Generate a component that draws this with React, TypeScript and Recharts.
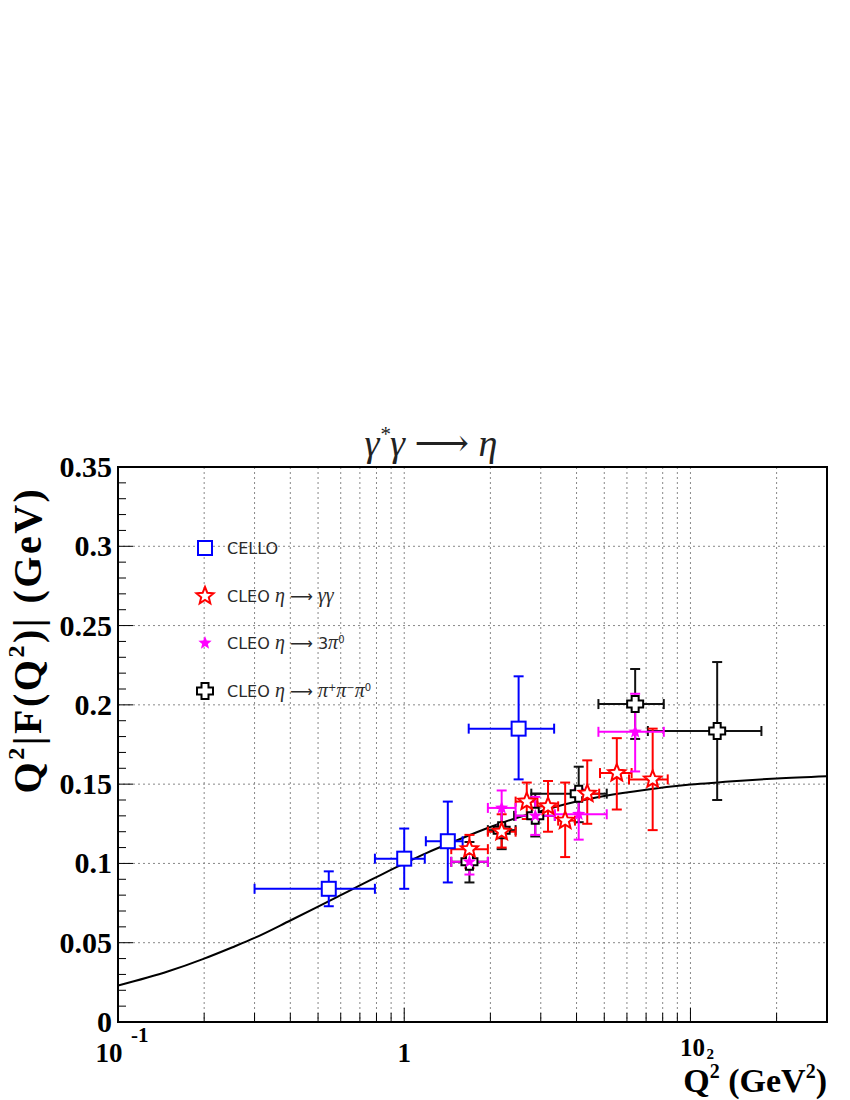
import React from 'react';
import { ComposedChart, Scatter, Line, XAxis, YAxis, CartesianGrid, ErrorBar, ReferenceArea } from 'recharts';

// CELLO
const celloData = [
  { x: 0.545, y: 0.084, xlo: 0.30, xhi: 0.79, ylo: 0.073, yhi: 0.095 },
  { x: 1.0, y: 0.103, xlo: 0.79, xhi: 1.18, ylo: 0.084, yhi: 0.122 },
  { x: 1.42, y: 0.114, xlo: 1.19, xhi: 1.6, ylo: 0.088, yhi: 0.139 },
  { x: 2.51, y: 0.185, xlo: 1.68, xhi: 3.34, ylo: 0.153, yhi: 0.218 },
];
// CLEO eta -> gamma gamma
const cleoGGData = [
  { x: 1.69, y: 0.109, xlo: 1.46, xhi: 1.96, ylo: 0.097, yhi: 0.118 },
  { x: 2.19, y: 0.120, xlo: 1.96, xhi: 2.45, ylo: 0.110, yhi: 0.131 },
  { x: 2.68, y: 0.139, xlo: 2.45, xhi: 2.92, ylo: 0.128, yhi: 0.151 },
  { x: 3.18, y: 0.136, xlo: 2.92, xhi: 3.45, ylo: 0.120, yhi: 0.152 },
  { x: 3.65, y: 0.127, xlo: 3.45, xhi: 3.95, ylo: 0.104, yhi: 0.151 },
  { x: 4.36, y: 0.144, xlo: 3.95, xhi: 4.8, ylo: 0.125, yhi: 0.165 },
  { x: 5.53, y: 0.157, xlo: 4.83, xhi: 6.23, ylo: 0.134, yhi: 0.179 },
  { x: 7.38, y: 0.153, xlo: 6.1, xhi: 8.33, ylo: 0.121, yhi: 0.185 },
];
// CLEO eta -> 3 pi0
const cleo3PiData = [
  { x: 1.69, y: 0.101, xlo: 1.46, xhi: 1.96, ylo: 0.093, yhi: 0.109 },
  { x: 2.19, y: 0.135, xlo: 1.96, xhi: 2.45, ylo: 0.124, yhi: 0.146 },
  { x: 2.87, y: 0.130, xlo: 2.45, xhi: 3.36, ylo: 0.118, yhi: 0.142 },
  { x: 4.07, y: 0.131, xlo: 3.36, xhi: 5.1, ylo: 0.115, yhi: 0.147 },
  { x: 6.41, y: 0.183, xlo: 4.77, xhi: 8.07, ylo: 0.158, yhi: 0.207 },
];
// CLEO eta -> pi+ pi- pi0
const cleoPPPData = [
  { x: 1.69, y: 0.101, xlo: 1.46, xhi: 1.96, ylo: 0.088, yhi: 0.1135 },
  { x: 2.19, y: 0.121, xlo: 1.96, xhi: 2.45, ylo: 0.109, yhi: 0.135 },
  { x: 2.87, y: 0.130, xlo: 2.42, xhi: 3.36, ylo: 0.117, yhi: 0.144 },
  { x: 4.07, y: 0.144, xlo: 2.78, xhi: 5.1, ylo: 0.126, yhi: 0.161 },
  { x: 6.41, y: 0.2005, xlo: 4.77, xhi: 8.07, ylo: 0.1785, yhi: 0.2226 },
  { x: 12.4, y: 0.1835, xlo: 7.1, xhi: 17.7, ylo: 0.140, yhi: 0.227 },
];
// theory curve
const curveQ2 = [0.1, 0.15, 0.2, 0.25, 0.3, 0.4, 0.5, 0.6, 0.7, 0.8, 1, 1.2, 1.5, 2, 2.5, 3, 4, 5, 7, 10, 15, 20, 30];
const curveF = [0.023, 0.032, 0.040, 0.047, 0.053, 0.064, 0.0727, 0.080, 0.0862, 0.0914, 0.100, 0.1067, 0.114, 0.123, 0.129, 0.133, 0.139, 0.1425, 0.1465, 0.1497, 0.1522, 0.1536, 0.155];

const xGridValues = [0.2, 0.3, 0.4, 0.5, 0.6, 0.7, 0.8, 0.9, 1, 2, 3, 4, 5, 6, 7, 8, 9, 10, 20];
const xTickValues = [0.1, ...xGridValues];
const yGridValues = [0.05, 0.1, 0.15, 0.2, 0.25, 0.3];
const yTickLabels = ['0', '0.05', '0.1', '0.15', '0.2', '0.25', '0.3', '0.35'];
const yTickValues = Array.from({ length: 36 }, (_, i) => i / 100);

const toPts = (arr: any[]) =>
  arr.map((d) => ({ x: d.x, y: d.y, ex: [d.x - d.xlo, d.xhi - d.x], ey: [d.y - d.ylo, d.yhi - d.y] }));
const curveData = curveQ2.map((q, i) => ({ x: q, y: curveF[i] }));

const starPath = (cx: number, cy: number, R: number, r: number) => {
  let p = '';
  for (let i = 0; i < 10; i++) {
    const rad = i % 2 === 0 ? R : r;
    const a = -Math.PI / 2 + (i * Math.PI) / 5;
    p += (i === 0 ? 'M' : 'L') + (cx + rad * Math.cos(a)).toFixed(2) + ',' + (cy + rad * Math.sin(a)).toFixed(2);
  }
  return p + 'Z';
};
const crossPath = (cx: number, cy: number, a: number, t: number) =>
  `M${cx - t},${cy - a}L${cx + t},${cy - a}L${cx + t},${cy - t}L${cx + a},${cy - t}L${cx + a},${cy + t}L${cx + t},${cy + t}L${cx + t},${cy + a}L${cx - t},${cy + a}L${cx - t},${cy + t}L${cx - a},${cy + t}L${cx - a},${cy - t}L${cx - t},${cy - t}Z`;

const SquareMark = ({ cx, cy }: any) => (
  <rect x={cx - 7} y={cy - 7} width={14} height={14} fill="#fff" stroke="#0000ff" strokeWidth={2} />
);
const OpenStar = ({ cx, cy }: any) => <path d={starPath(cx, cy, 9, 4)} fill="#fff" stroke="#ff0000" strokeWidth={2} />;
const FilledStar = ({ cx, cy }: any) => <path d={starPath(cx, cy, 7, 3)} fill="#ff00ff" stroke="none" />;
const OpenCross = ({ cx, cy }: any) => <path d={crossPath(cx, cy, 8, 3.5)} fill="#fff" stroke="#000" strokeWidth={2} />;

const serif = '"Liberation Serif", "DejaVu Serif", serif';
const sans = '"DejaVu Sans", sans-serif';

const XTick = (props: any) => {
  const { x, y, payload } = props;
  const v = payload.value;
  const major = [0.1, 1, 10].some((m) => Math.abs(v - m) < 1e-9);
  let label = null;
  if (Math.abs(v - 0.1) < 1e-9) {
    label = (
      <g fontFamily={serif} fontWeight="bold" fill="#000">
        <text x={x - 9} y={y + 40} fontSize={27} textAnchor="middle">10</text>
        <text x={x + 13} y={y + 20} fontSize={21}>-1</text>
      </g>
    );
  } else if (Math.abs(v - 1) < 1e-9) {
    label = (
      <text x={x} y={y + 40} fontSize={27} textAnchor="middle" fontFamily={serif} fontWeight="bold" fill="#000">1</text>
    );
  } else if (Math.abs(v - 10) < 1e-9) {
    label = (
      <g fontFamily={serif} fontWeight="bold" fill="#000">
        <text x={x + 2} y={y + 34} fontSize={25} textAnchor="middle">10</text>
        <text x={x + 16} y={y + 37} fontSize={15}>2</text>
      </g>
    );
  }
  return (
    <g>
      <line x1={x} y1={y} x2={x} y2={y - (major ? 14 : 9)} stroke="#000" strokeWidth={1} />
      {label}
    </g>
  );
};

const YTick = (props: any) => {
  const { x, y, index } = props;
  const major = index % 5 === 0;
  return (
    <g>
      <line x1={x} y1={y} x2={x + (major ? 15 : 8)} y2={y} stroke="#000" strokeWidth={1} />
      {major ? (
        <text x={x - 6} y={y + 10} fontSize={30} textAnchor="end" fontFamily={serif} fontWeight="bold" fill="#000">
          {yTickLabels[index / 5]}
        </text>
      ) : null}
    </g>
  );
};

const etaSpan = (s: string) => (
  <tspan fontFamily={serif} fontStyle="italic" fontSize={20}>{s}</tspan>
);

export default function App() {
  return (
    <div style={{ position: 'absolute', left: 0, top: 0, width: 850, height: 1100, background: '#fff' }}>
      <div style={{ position: 'absolute', left: 0, top: 0 }}>
        <ComposedChart width={850} height={1100} margin={{ top: 467, right: 23, bottom: 18, left: 58 }}>
          <CartesianGrid
            verticalValues={xGridValues}
            horizontalValues={yGridValues}
            stroke="#888"
            strokeDasharray="2 3"
            strokeWidth={1}
          />
          <XAxis
            dataKey="x"
            type="number"
            scale="log"
            domain={[0.1, 30]}
            allowDataOverflow
            ticks={xTickValues}
            tick={<XTick />}
            tickSize={0}
            tickMargin={0}
            tickLine={false}
            axisLine={false}
            height={60}
            interval={0}
          />
          <YAxis
            type="number"
            domain={[0, 0.35]}
            allowDataOverflow
            ticks={yTickValues}
            tick={<YTick />}
            tickSize={0}
            tickMargin={0}
            tickLine={false}
            axisLine={false}
            width={60}
            interval={0}
          />
          <Line data={curveData} dataKey="y" type="monotone" stroke="#000" strokeWidth={2} dot={false} isAnimationActive={false} />
          <Scatter data={toPts(celloData)} dataKey="y" shape={<SquareMark />} isAnimationActive={false}>
            <ErrorBar dataKey="ex" direction="x" width={5} stroke="#0000ff" strokeWidth={2} />
            <ErrorBar dataKey="ey" direction="y" width={5} stroke="#0000ff" strokeWidth={2} />
          </Scatter>
          <Scatter data={toPts(cleoPPPData)} dataKey="y" shape={<OpenCross />} isAnimationActive={false}>
            <ErrorBar dataKey="ex" direction="x" width={5} stroke="#111" strokeWidth={2} />
            <ErrorBar dataKey="ey" direction="y" width={5} stroke="#111" strokeWidth={2} />
          </Scatter>
          <Scatter data={toPts(cleoGGData)} dataKey="y" shape={<OpenStar />} isAnimationActive={false}>
            <ErrorBar dataKey="ex" direction="x" width={5} stroke="#ff0000" strokeWidth={2} />
            <ErrorBar dataKey="ey" direction="y" width={5} stroke="#ff0000" strokeWidth={2} />
          </Scatter>
          <Scatter data={toPts(cleo3PiData)} dataKey="y" shape={<FilledStar />} isAnimationActive={false}>
            <ErrorBar dataKey="ex" direction="x" width={5} stroke="#ff00ff" strokeWidth={2} />
            <ErrorBar dataKey="ey" direction="y" width={5} stroke="#ff00ff" strokeWidth={2} />
          </Scatter>
          <ReferenceArea x1={0.1} x2={30} y1={0} y2={0.35} fill="none" stroke="#000" strokeWidth={2} ifOverflow="visible" />
        </ComposedChart>
      </div>
      <svg width={850} height={1100} style={{ position: 'absolute', left: 0, top: 0, pointerEvents: 'none' }}>
        <text x={431} y={456} fontSize={38} fontStyle="italic" fontFamily={serif} textAnchor="middle" fill="#222">
          γ<tspan dy={-15} fontSize={21}>*</tspan>
          <tspan dy={15}>γ ⟶ η</tspan>
        </text>
        <text
          transform="translate(41,640) rotate(-90)"
          fontSize={40}
          fontWeight="bold"
          fontFamily={serif}
          textAnchor="middle"
          letterSpacing={2.5}
          fill="#000"
        >
          Q<tspan dy={-17} fontSize={24}>2</tspan>
          <tspan dy={17}>|F(Q</tspan>
          <tspan dy={-17} fontSize={24}>2</tspan>
          <tspan dy={17}>)| (GeV)</tspan>
        </text>
        <text x={827} y={1092} fontSize={34} fontWeight="bold" fontFamily={serif} textAnchor="end" fill="#000">
          Q<tspan dy={-14} fontSize={20}>2</tspan>
          <tspan dy={14}> (GeV</tspan>
          <tspan dy={-14} fontSize={20}>2</tspan>
          <tspan dy={14}>)</tspan>
        </text>
        <g fontFamily={sans} fontSize={16} fill="#2a2a2a">
          <SquareMark cx={205} cy={548} />
          <text x={227} y={554}>CELLO</text>
          <OpenStar cx={205} cy={596} />
          <text x={227} y={602}>
            CLEO {etaSpan('η')} ⟶ {etaSpan('γγ')}
          </text>
          <FilledStar cx={205} cy={643} />
          <text x={227} y={649}>
            CLEO {etaSpan('η')} ⟶ 3{etaSpan('π')}<tspan dy={-6} fontSize={10}>0</tspan>
          </text>
          <OpenCross cx={205} cy={691} />
          <text x={227} y={697}>
            CLEO {etaSpan('η')} ⟶ {etaSpan('π')}<tspan dy={-6} fontSize={10}>+</tspan><tspan dy={6} fontFamily={serif} fontStyle="italic" fontSize={20}>π</tspan><tspan dy={-6} fontSize={10}>−</tspan><tspan dy={6} fontFamily={serif} fontStyle="italic" fontSize={20}>π</tspan><tspan dy={-6} fontSize={10}>0</tspan>
          </text>
        </g>
      </svg>
    </div>
  );
}
